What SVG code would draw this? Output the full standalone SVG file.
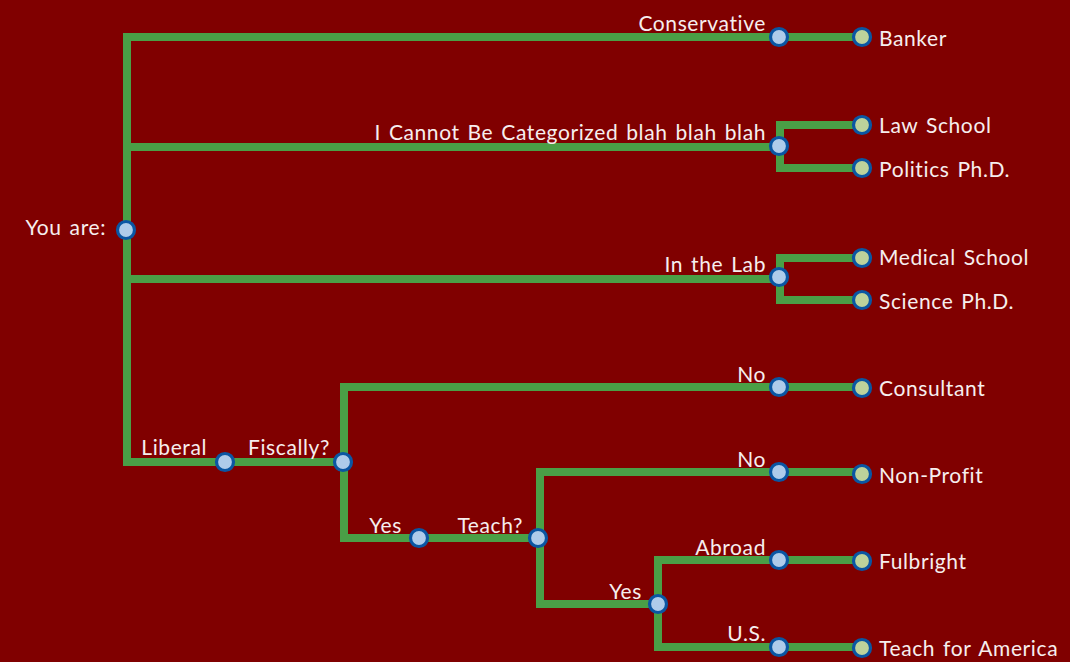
<svg xmlns="http://www.w3.org/2000/svg" width="1070" height="662" viewBox="0 0 1070 662">
<style>
.c{fill:none;stroke:#4a9f46;stroke-width:8;stroke-linecap:square;stroke-linejoin:miter}
.n{fill:#aecbea;stroke:#0a56a3;stroke-width:3.2}
.l{fill:#bdd29b;stroke:#0a56a3;stroke-width:3.2}
text{font-family:"Lato","Open Sans","DejaVu Sans",sans-serif;font-size:21px;fill:#f6eeee;letter-spacing:0.6px;word-spacing:2px}
.e{text-anchor:end}
</style>
<rect width="1070" height="662" fill="#800000"/>
<g id="connectors">
<path class="c" d="M779,37 H127 V462 H225"/>
<path class="c" d="M127,147 H779"/>
<path class="c" d="M127,279 H779"/>
<path class="c" d="M779,37 H862"/>
<path class="c" d="M862,125 H780 V168 H862"/>
<path class="c" d="M862,258 H780 V300 H862"/>
<path class="c" d="M225,462 H343"/>
<path class="c" d="M779,387 H344 V538 H538"/>
<path class="c" d="M779,387 H862"/>
<path class="c" d="M779,472 H540 V604 H658"/>
<path class="c" d="M779,472 H862"/>
<path class="c" d="M779,560 H658 V647 H779"/>
<path class="c" d="M779,560 H862"/>
<path class="c" d="M779,647 H862"/>
</g>
<g id="root"><circle class="n" cx="126" cy="230" r="8.5"/><text class="e" x="106" y="235">You are:</text></g>
<g id="conservative"><circle class="n" cx="779" cy="37" r="8.5"/><text class="e" x="766" y="31">Conservative</text></g>
<g id="banker"><circle class="l" cx="862" cy="37" r="8.5"/><text x="879" y="46">Banker</text></g>
<g id="uncategorized"><circle class="n" cx="779" cy="146" r="8.5"/><text class="e" x="766" y="140">I Cannot Be Categorized blah blah blah</text></g>
<g id="lawschool"><circle class="l" cx="862" cy="125" r="8.5"/><text x="879" y="133">Law School</text></g>
<g id="politics"><circle class="l" cx="862" cy="168" r="8.5"/><text x="879" y="177">Politics Ph.D.</text></g>
<g id="lab"><circle class="n" cx="779" cy="277" r="8.5"/><text class="e" x="766" y="272">In the Lab</text></g>
<g id="medical"><circle class="l" cx="862" cy="258" r="8.5"/><text x="879" y="265">Medical School</text></g>
<g id="science"><circle class="l" cx="862" cy="300" r="8.5"/><text x="879" y="309">Science Ph.D.</text></g>
<g id="liberal"><circle class="n" cx="225" cy="462" r="8.5"/><text class="e" x="207" y="455">Liberal</text></g>
<g id="fiscally"><circle class="n" cx="343" cy="462" r="8.5"/><text class="e" x="330" y="455">Fiscally?</text></g>
<g id="no1"><circle class="n" cx="779" cy="387" r="8.5"/><text class="e" x="766" y="382">No</text></g>
<g id="consultant"><circle class="l" cx="862" cy="388" r="8.5"/><text x="879" y="396">Consultant</text></g>
<g id="yes1"><circle class="n" cx="419" cy="538" r="8.5"/><text class="e" x="402" y="533">Yes</text></g>
<g id="teach"><circle class="n" cx="538" cy="538" r="8.5"/><text class="e" x="523" y="533">Teach?</text></g>
<g id="no2"><circle class="n" cx="779" cy="472" r="8.5"/><text class="e" x="766" y="467">No</text></g>
<g id="nonprofit"><circle class="l" cx="862" cy="474" r="8.5"/><text x="879" y="483">Non-Profit</text></g>
<g id="yes2"><circle class="n" cx="658" cy="604" r="8.5"/><text class="e" x="642" y="599">Yes</text></g>
<g id="abroad"><circle class="n" cx="779" cy="560" r="8.5"/><text class="e" x="766" y="555">Abroad</text></g>
<g id="fulbright"><circle class="l" cx="862" cy="561" r="8.5"/><text x="879" y="569">Fulbright</text></g>
<g id="us"><circle class="n" cx="779" cy="647" r="8.5"/><text class="e" x="766" y="641">U.S.</text></g>
<g id="tfa"><circle class="l" cx="862" cy="648" r="8.5"/><text x="879" y="656">Teach for America</text></g>
</svg>
